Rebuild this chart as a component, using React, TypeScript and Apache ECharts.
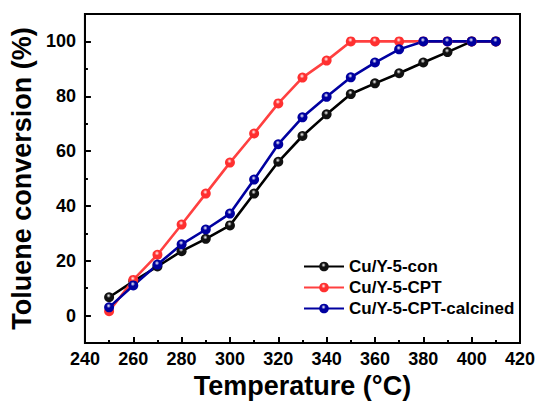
import React, { useEffect, useRef } from "react";
import * as echarts from "echarts";

const temps = [250, 260, 270, 280, 290, 300, 310, 320, 330, 340, 350, 360, 370, 380, 390, 400, 410];
const conValues = [6.7, 12.5, 17.9, 23.5, 28.0, 32.9, 44.5, 56.1, 65.5, 73.4, 80.8, 84.7, 88.4, 92.3, 96.1, 100, 100];
const cptValues = [1.6, 13.0, 22.2, 33.2, 44.5, 55.8, 66.4, 77.4, 86.8, 93.0, 100, 100, 100, 100, 100, 100, 100];
const calcinedValues = [3.0, 11.0, 18.6, 26.0, 31.4, 37.2, 49.6, 62.5, 72.3, 79.8, 86.9, 92.3, 97.1, 100, 100, 100, 100];
const seriesNames = ["Cu/Y-5-con", "Cu/Y-5-CPT", "Cu/Y-5-CPT-calcined"];
const yMajorTicks = [0, 20, 40, 60, 80, 100];
const yMinorTicks = [10, 30, 50, 70, 90];

const FONT = "Liberation Sans";

function ball(color: string) {
  return new echarts.graphic.RadialGradient(0.45, 0.35, 0.65, [
    { offset: 0, color: "#ffffff" },
    { offset: 0.35, color: color },
    { offset: 1, color: color },
  ]);
}

function makeSeries(name: string, values: number[], color: string, markerColor: string) {
  return {
    name,
    type: "line",
    data: temps.map((t, i) => [t, values[i]]),
    symbol: "circle",
    symbolSize: 10,
    lineStyle: { color, width: 2.6 },
    itemStyle: { color: ball(markerColor), borderWidth: 0 },
    emphasis: { disabled: true },
  };
}

const richLabel = {
  b: { fontFamily: FONT, fontWeight: "bold", fontSize: 18, color: "#000" },
};

export default function App() {
  const ref = useRef<HTMLDivElement>(null);
  useEffect(() => {
    if (!ref.current) return;
    const chart = echarts.init(ref.current, null, { renderer: "svg" });
    chart.setOption({
      animation: false,
      backgroundColor: "#ffffff",
      textStyle: { fontFamily: FONT, fontWeight: "bold" },
      grid: {
        left: 82,
        right: 19,
        top: 14,
        bottom: 62,
        show: true,
        borderColor: "#000",
        borderWidth: 2,
      },
      legend: {
        left: 298,
        top: 253,
        orient: "vertical",
        itemWidth: 40,
        itemHeight: 12,
        itemGap: 4,
        textStyle: { fontFamily: FONT, fontWeight: "bold", fontSize: 17, color: "#000" },
        data: seriesNames,
      },
      xAxis: {
        type: "value",
        min: 240,
        max: 420,
        interval: 20,
        name: "Temperature (°C)",
        nameLocation: "middle",
        nameGap: 29,
        nameTextStyle: { fontFamily: FONT, fontWeight: "bold", fontSize: 27, color: "#000" },
        axisLine: { onZero: false, lineStyle: { color: "#000", width: 2 } },
        axisTick: { inside: true, length: 6, lineStyle: { color: "#000", width: 2 } },
        minorTick: { show: true, splitNumber: 2, length: 3, lineStyle: { color: "#000", width: 2 } },
        axisLabel: {
          fontFamily: FONT, fontWeight: "bold", fontSize: 18, color: "#000", margin: 7,
          formatter: "{b|{value}}", rich: richLabel,
        },
        splitLine: { show: false },
        minorSplitLine: { show: false },
      },
      yAxis: [
        {
          type: "value",
          min: -10,
          max: 110,
          name: "Toluene conversion (%)",
          nameLocation: "middle",
          nameGap: 44,
          nameTextStyle: { fontFamily: FONT, fontWeight: "bold", fontSize: 27, color: "#000" },
          axisLine: { show: true, onZero: false, lineStyle: { color: "#000", width: 2 } },
          axisTick: { show: true, inside: true, length: 6, customValues: yMajorTicks, lineStyle: { color: "#000", width: 2 } },
          axisLabel: {
            fontFamily: FONT, fontWeight: "bold", fontSize: 18, color: "#000", margin: 9,
            customValues: yMajorTicks, formatter: "{b|{value}}", rich: richLabel,
          },
          splitLine: { show: false },
        },
        {
          type: "value",
          min: -10,
          max: 110,
          position: "left",
          axisLine: { show: false, onZero: false },
          axisTick: { show: true, inside: true, length: 3, customValues: yMinorTicks, lineStyle: { color: "#000", width: 2 } },
          axisLabel: { show: false },
          splitLine: { show: false },
        },
      ],
      series: [
        makeSeries(seriesNames[0], conValues, "#000000", "#111111"),
        makeSeries(seriesNames[1], cptValues, "#ff4040", "#ff3030"),
        makeSeries(seriesNames[2], calcinedValues, "#0000a0", "#0000a0"),
      ],
    });
    return () => chart.dispose();
  }, []);
  return <div ref={ref} style={{ width: 539, height: 405, position: "absolute", left: 0, top: 0 }} />;
}
